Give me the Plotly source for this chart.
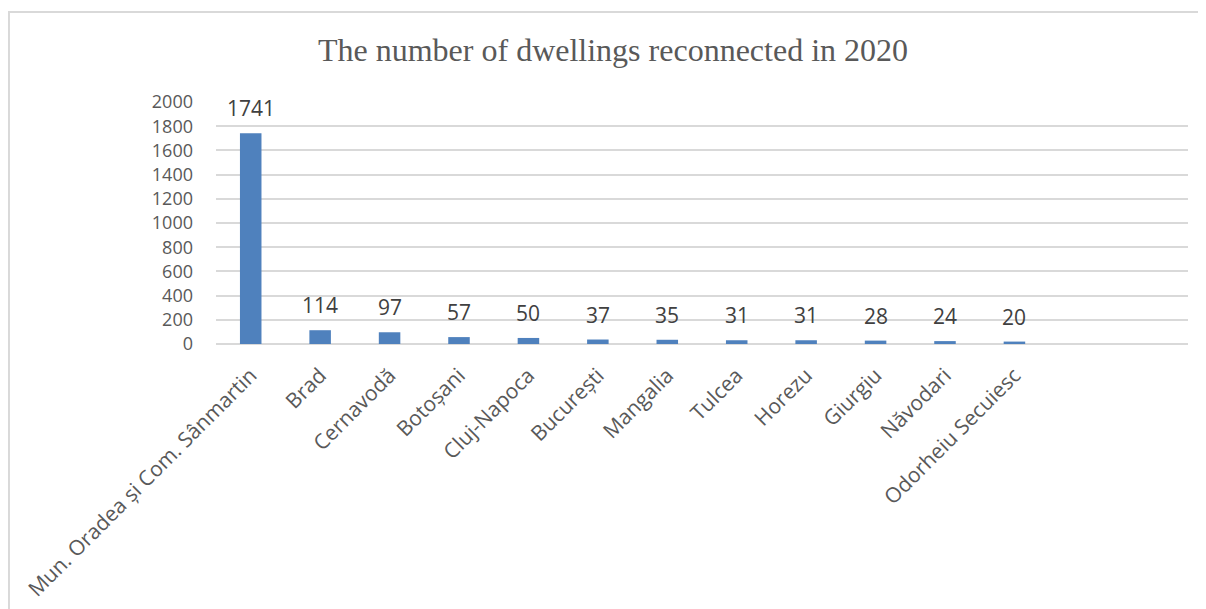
import plotly.graph_objects as go

categories = ["Mun. Oradea și Com. Sânmartin", "Brad", "Cernavodă", "Botoșani", "Cluj-Napoca",
              "București", "Mangalia", "Tulcea", "Horezu", "Giurgiu", "Năvodari", "Odorheiu Secuiesc"]
values = [1741, 114, 97, 57, 50, 37, 35, 31, 31, 28, 24, 20]
y_ticks = [0, 200, 400, 600, 800, 1000, 1200, 1400, 1600, 1800, 2000]
title_text = "The number of dwellings reconnected in 2020"

# the page body adds an 8px offset; target screen positions are compensated
OFF = 8
W, H = 1206, 609
ml = 216 - OFF
mt = 102 - OFF
mr = W - (1188 - OFF)
mb = H - (344 - OFF)
pw, ph = W - ml - mr, H - mt - mb

fig = go.Figure()
fig.add_trace(go.Bar(
    x=categories, y=values,
    marker=dict(color="#4F81BD", line=dict(width=0)),
    hoverinfo="x+y",
))

for c, v in zip(categories, values):
    fig.add_annotation(x=c, y=v, text=str(v), showarrow=False, yanchor="bottom",
                       yshift=9, font=dict(family="Open Sans", size=21, color="#404040"))

# outer chart border (top and left visible)
bx = (8 - OFF - ml) / pw
by = (344 - 12) / ph
fig.add_shape(type="line", xref="paper", yref="paper", x0=bx, x1=(W - ml) / pw + 0.05, y0=by, y1=by,
              line=dict(color="#d9d9d9", width=2))
fig.add_shape(type="line", xref="paper", yref="paper", x0=bx + 0.001, x1=bx + 0.001, y0=by, y1=-mb / ph - 0.05,
              line=dict(color="#d9d9d9", width=2))

fig.update_layout(
    width=W, height=H,
    margin=dict(l=ml, r=mr, t=mt, b=mb),
    paper_bgcolor="white", plot_bgcolor="white",
    bargap=0.69,
    showlegend=False,
    title=dict(text=title_text, x=(613 - OFF) / W, xanchor="center", xref="container",
               y=1 - (50 - OFF) / H, yanchor="middle", yref="container",
               font=dict(family="Liberation Serif", size=32, color="#595959")),
    xaxis=dict(type="category", range=[-0.5, 13.5], tickangle=-45,
               showgrid=False, showline=False, zeroline=False, ticks="", ticklabelstandoff=14,
               tickfont=dict(family="Open Sans", size=21, color="#595959")),
    yaxis=dict(range=[0, 2000], tickvals=y_ticks, showgrid=True, gridcolor="#d9d9d9", gridwidth=1.5,
               zeroline=True, zerolinecolor="#d9d9d9", zerolinewidth=1.5, showline=False,
               ticks="", ticklabelstandoff=22,
               tickfont=dict(family="Open Sans", size=18, color="#595959")),
)

fig.write_html("out.html")
